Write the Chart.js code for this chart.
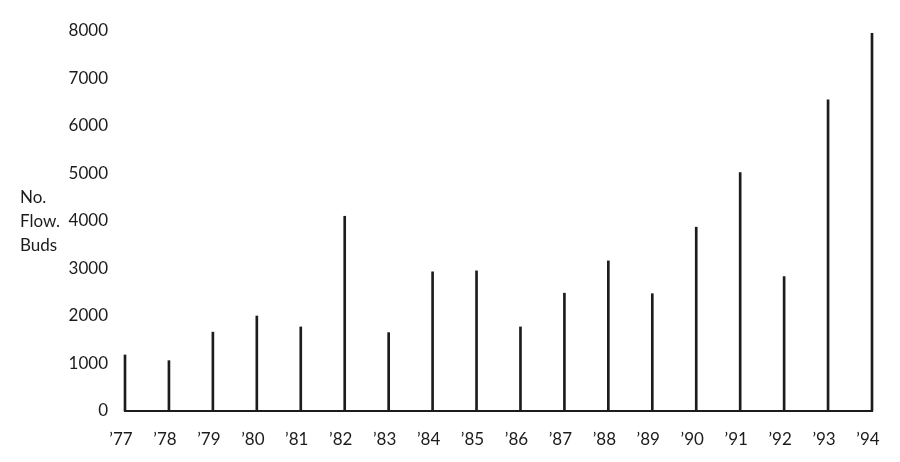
<!DOCTYPE html>
<html>
<head>
<meta charset="utf-8">
<script src="https://cdn.jsdelivr.net/npm/chart.js@4"></script>
<style>
  html, body { margin: 0; padding: 0; background: #fff; }
  #wrap { width: 900px; height: 462px; }
</style>
</head>
<body>
<div id="wrap"><canvas id="Chart" width="900" height="462"></canvas></div>
<script>
const years = ['’77', '’78', '’79', '’80', '’81', '’82', '’83', '’84', '’85',
               '’86', '’87', '’88', '’89', '’90', '’91', '’92', '’93', '’94'];
const flowerBuds = [1180, 1060, 1660, 2000, 1770, 4100, 1650, 2930, 2950,
                    1770, 2480, 3160, 2470, 3870, 5020, 2830, 6550, 7950];
const yTitleLines = ['No.', 'Flow.', 'Buds'];

const ink = '#1c1c1c';
const fontFamily = 'Lato, "Open Sans", sans-serif';

// draws the stacked y-axis title on the left
const yTitle = {
    id: 'yTitle',
    afterDraw(chart) {
        const c = chart.ctx;
        c.save();
        c.fillStyle = ink;
        c.font = '17px ' + fontFamily;
        c.textAlign = 'left';
        c.textBaseline = 'alphabetic';
        yTitleLines.forEach((t, i) => c.fillText(t, 20, 203 + i * 24));
        c.restore();
    }
};

const ctx = document.getElementById('Chart').getContext('2d');
new Chart(ctx, {
    type: 'bar',
    data: {
        labels: years,
        datasets: [{
            data: flowerBuds,
            backgroundColor: ink,
            barThickness: 2,
            clip: false
        }]
    },
    options: {
        responsive: false,
        animation: false,
        layout: { padding: { top: 31, right: 28, left: 0, bottom: 0 } },
        plugins: {
            legend: { display: false },
            tooltip: { enabled: false }
        },
        scales: {
            x: {
                offset: false,
                grid: { display: false },
                border: { display: true, color: ink, width: 2 },
                ticks: {
                    color: ink,
                    font: { family: fontFamily, size: 17 },
                    padding: 10,
                    labelOffset: -4,
                    maxRotation: 0,
                    autoSkip: false
                },
                afterFit(scale) { scale.height = 51; }
            },
            y: {
                min: 0,
                max: 8000,
                grid: { display: false },
                border: { display: false },
                ticks: {
                    stepSize: 1000,
                    color: ink,
                    font: { family: fontFamily, size: 17 },
                    padding: 9,
                    callback: (v) => String(v)
                },
                afterFit(scale) { scale.width = 125; }
            }
        }
    },
    plugins: [yTitle]
});
</script>
</body>
</html>
